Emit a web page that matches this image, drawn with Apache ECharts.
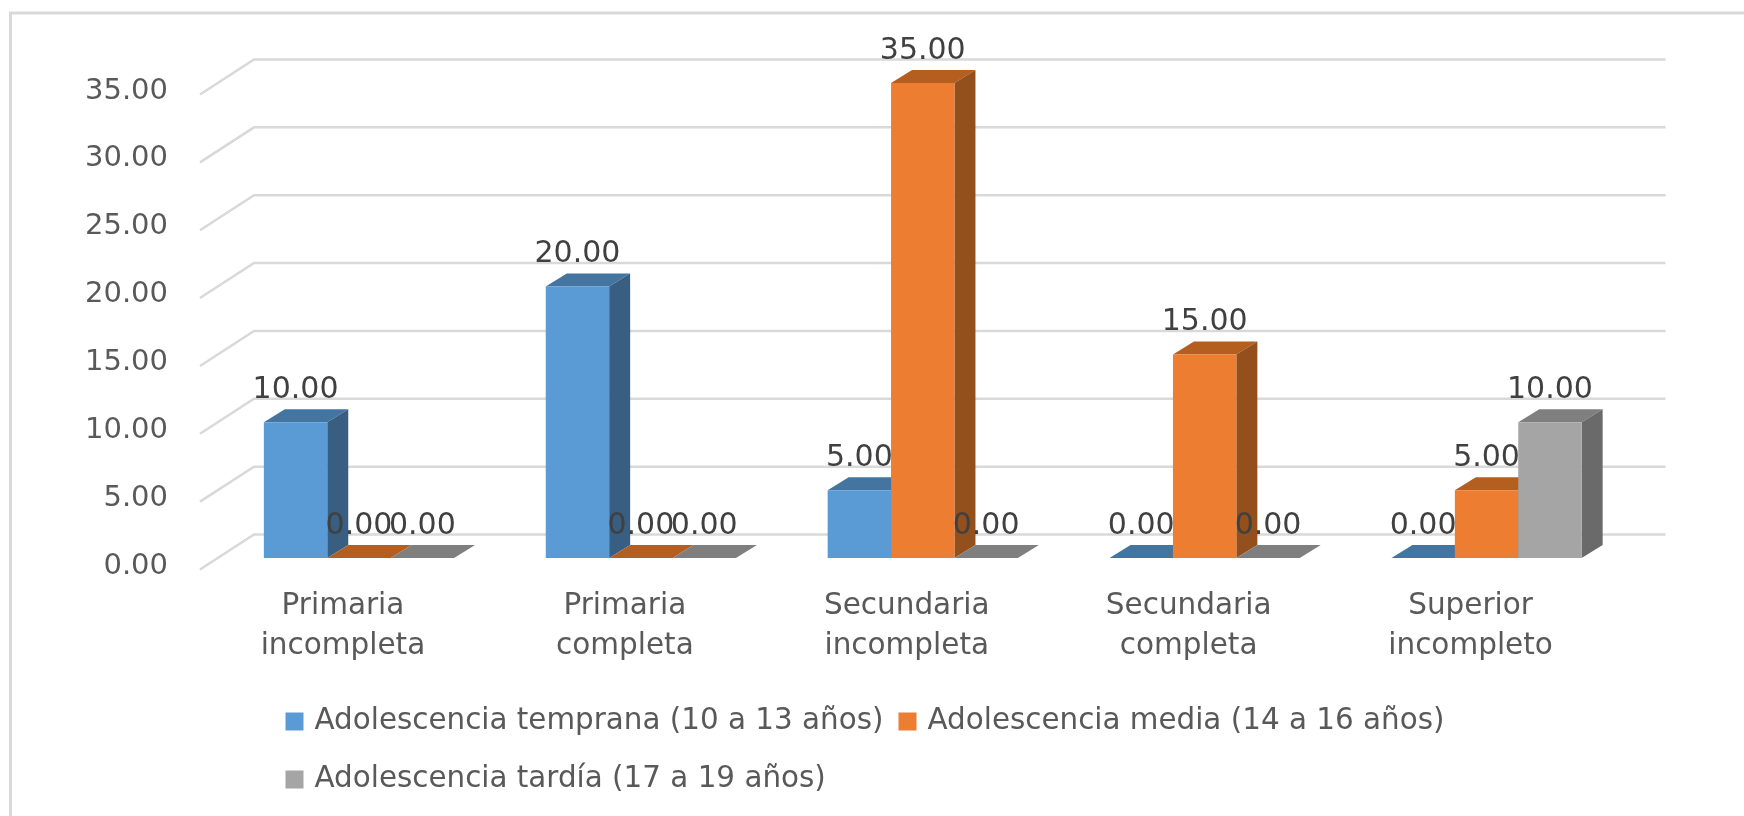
<!DOCTYPE html>
<html><head><meta charset="utf-8">
<style>html,body{margin:0;padding:0;background:#fff}#c{width:1744px;height:816px}</style>
<script src="https://cdn.jsdelivr.net/npm/echarts@6/dist/echarts.min.js"></script>
</head><body><div id="c"></div>
<script>
const categories = ['Primaria\nincompleta','Primaria\ncompleta','Secundaria\nincompleta','Secundaria\ncompleta','Superior\nincompleto'];
const temprana = [10,20,5,0,0];
const media = [0,0,35,15,5];
const tardia = [0,0,0,0,10];
const ticks = [0,5,10,15,20,25,30,35];
const names = ['Adolescencia temprana (10 a 13 años)','Adolescencia media (14 a 16 años)','Adolescencia tardía (17 a 19 años)'];
const FONT = 'DejaVu Sans';
const palette = [
  {front:'#5B9BD5', top:'#4475A1', side:'#385E82'},
  {front:'#ED7D31', top:'#B45E20', side:'#934F1C'},
  {front:'#A5A5A5', top:'#7F7F7F', side:'#6A6A6A'}
];
const BAR_W = 63.4, DX = 21, DY = 13;

function barSeries(name, data, idx){
  const p = palette[idx];
  return {
    name, type:'custom', coordinateSystem:'cartesian2d', z:3,
    itemStyle:{color:p.front},
    encode:{x:0,y:1},
    data:data.map((v,i)=>[i,v]),
    renderItem(params, api){
      const c = api.value(0), v = api.value(1);
      const t = api.coord([c,v]), b = api.coord([c,0]);
      const xl = t[0] + (idx-1.5)*BAR_W, xr = xl + BAR_W;
      const children = [];
      children.push({type:'polygon',shape:{points:[[xl,t[1]],[xr,t[1]],[xr+DX,t[1]-DY],[xl+DX,t[1]-DY]]},style:{fill:p.top}});
      if(v>0){
        children.push({type:'polygon',shape:{points:[[xr,t[1]],[xr+DX,t[1]-DY],[xr+DX,b[1]-DY],[xr,b[1]]]},style:{fill:p.side}});
        children.push({type:'rect',shape:{x:xl,y:t[1],width:BAR_W,height:b[1]-t[1]},style:{fill:p.front}});
      }
      children.push({type:'text',z2:100,style:{text:v.toFixed(2),x:(xl+xr)/2,y:t[1]-32,textAlign:'center',textVerticalAlign:'middle',fontSize:30,fontFamily:FONT,fill:'#404040'}});
      return {type:'group',children};
    }
  };
}

const option = {
  backgroundColor:'#fff',
  animation:false,
  graphic:[{type:'rect',z:0,shape:{x:10.5,y:13,width:1800,height:900},style:{fill:'none',stroke:'#d9d9d9',lineWidth:3}}],
  grid:{left:218,top:83,width:1409.5,height:475,containLabel:false},
  xAxis:{type:'category',data:categories,axisLine:{show:false},axisTick:{show:false},splitLine:{show:false},
    axisLabel:{interval:0,margin:28,fontSize:29.5,lineHeight:40,color:'#595959',fontFamily:FONT,padding:[0,32,0,0]}},
  yAxis:{type:'value',min:0,max:35,interval:5,axisLine:{show:false},axisTick:{show:false},splitLine:{show:false},
    axisLabel:{margin:50,fontSize:29,color:'#595959',fontFamily:FONT,verticalAlign:'top',lineHeight:16,formatter:v=>v.toFixed(2)}},
  legend:{left:280.5,top:695,width:1220,itemWidth:18,itemHeight:18,itemGap:15,icon:'rect',
    data:names,
    textStyle:{fontSize:29.4,lineHeight:43,color:'#595959',fontFamily:FONT,padding:[0,0,0,6]}},
  series:[
    {name:'grid',type:'custom',coordinateSystem:'cartesian2d',z:1,silent:true,legendHoverLink:false,
     data:ticks.map(t=>[0,t]),encode:{y:1},
     renderItem(params,api){
       const cs = params.coordSys, y = api.coord([0,api.value(1)])[1];
       return {type:'polyline',shape:{points:[[cs.x-18,y+11.5],[cs.x+36,y-23.5],[cs.x+cs.width+38,y-23.5]]},
         style:{fill:'none',stroke:'#d9d9d9',lineWidth:2.5}};
     }},
    barSeries(names[0],temprana,0),
    barSeries(names[1],media,1),
    barSeries(names[2],tardia,2)
  ]
};
const chart = echarts.init(document.getElementById('c'),null,{renderer:'canvas'});
chart.setOption(option);
</script></body></html>
